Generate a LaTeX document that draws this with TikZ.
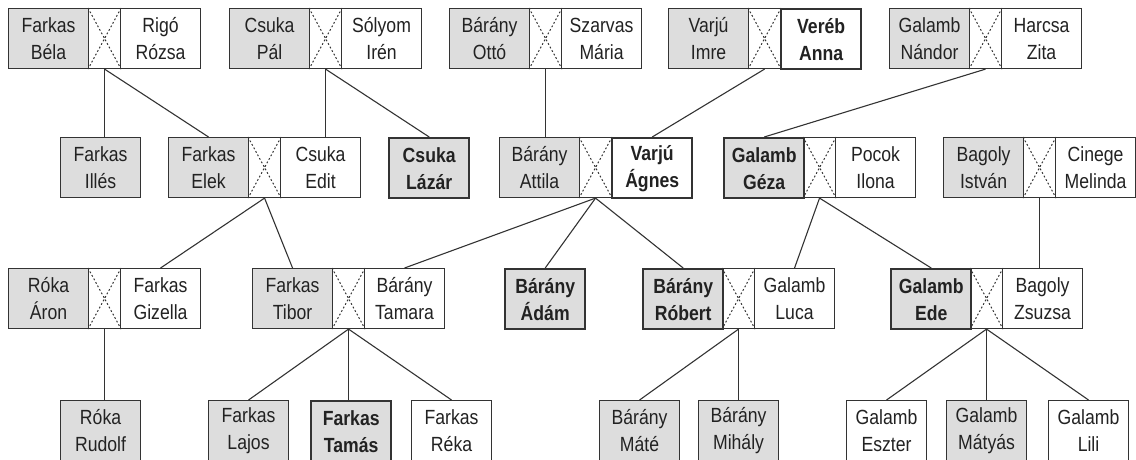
\documentclass[tikz,border=0pt]{standalone}
\usepackage{fontspec}
\setmainfont{Liberation Sans}[FakeStretch=0.86]
\definecolor{boxgray}{HTML}{DDDDDD}
\definecolor{ink}{HTML}{222222}
\definecolor{edge}{HTML}{333333}
\tikzset{
 pbox/.style={draw=edge, line width=1.1pt, minimum width=80pt, minimum height=60pt, anchor=north west, inner sep=0pt, align=center, text=ink, font=\fontsize{20.5}{27}\selectfont},
 male/.style={pbox, fill=boxgray},
 female/.style={pbox, fill=white},
 key/.style={line width=2.4pt, font=\fontsize{20.5}{27}\selectfont\bfseries},
 mbox/.style={draw=edge, line width=1.1pt, minimum width=32pt, minimum height=60pt, anchor=north west, inner sep=0pt, fill=white},
 link/.style={draw=edge, line width=1.1pt},
 cross/.style={draw=edge, line width=1pt, dash pattern=on 1.8pt off 2.2pt}
}
\newcommand\cpl[7]{%
 \node[mbox] (#1-m) at ({#2+80},#3) {};
 \draw[cross] (#1-m.north west) -- (#1-m.south east) (#1-m.north east) -- (#1-m.south west);
 \node[#4] (#1-a) at (#2,#3) {#5};
 \node[#6] (#1-b) at ({#2+112},#3) {#7};
}
\begin{document}
\begin{tikzpicture}[x=1pt,y=-1pt]
\clip (0,0) rectangle (1136,459);
% row 1
\cpl{r1a}{8}{8}{male}{Farkas\\Béla}{female}{Rigó\\Rózsa}
\cpl{r1b}{229}{8}{male}{Csuka\\Pál}{female}{Sólyom\\Irén}
\cpl{r1c}{449}{8}{male}{Bárány\\Ottó}{female}{Szarvas\\Mária}
\cpl{r1d}{668}{8}{male}{Varjú\\Imre}{female,key}{Veréb\\Anna}
\cpl{r1e}{889}{8}{male}{Galamb\\Nándor}{female}{Harcsa\\Zita}
% row 2
\node[male] (illes) at (60,137) {Farkas\\Illés};
\cpl{elek}{168}{137}{male}{Farkas\\Elek}{female}{Csuka\\Edit}
\node[male,key] (lazar) at (388,137) {Csuka\\Lázár};
\cpl{attila}{499}{137}{male}{Bárány\\Attila}{female,key}{Varjú\\Ágnes}
\cpl{geza}{723}{137}{male,key}{Galamb\\Géza}{female}{Pocok\\Ilona}
\cpl{istvan}{943}{137}{male}{Bagoly\\István}{female}{Cinege\\Melinda}
% row 3
\cpl{aron}{8}{268}{male}{Róka\\Áron}{female}{Farkas\\Gizella}
\cpl{tibor}{252}{268}{male}{Farkas\\Tibor}{female}{Bárány\\Tamara}
\node[male,key] (adam) at (504,268) {Bárány\\Ádám};
\cpl{robert}{642}{268}{male,key}{Bárány\\Róbert}{female}{Galamb\\Luca}
\cpl{ede}{890}{268}{male,key}{Galamb\\Ede}{female}{Bagoly\\Zsuzsa}
% row 4
\node[male] (rudolf) at (60,400) {Róka\\Rudolf};
\node[male] (lajos) at (208,400) {Farkas\\Lajos};
\node[male,key] (tamas) at (310,400) {Farkas\\Tamás};
\node[female] (reka) at (411,400) {Farkas\\Réka};
\node[male] (mate) at (599,400) {Bárány\\Máté};
\node[male] (mihaly) at (698,400) {Bárány\\Mihály};
\node[female] (eszter) at (846,400) {Galamb\\Eszter};
\node[male] (matyas) at (946,400) {Galamb\\Mátyás};
\node[female] (lili) at (1048,400) {Galamb\\Lili};
% connectors
\draw[link] (r1a-m.south) -- (r1a-m.south |- illes.north);
\draw[link] (r1a-m.south) -- (elek-a.north);
\draw[link] (r1b-m.south) -- (r1b-m.south |- elek-b.north);
\draw[link] (r1b-m.south) -- (lazar.north);
\draw[link] (r1c-m.south) -- (r1c-m.south |- attila-a.north);
\draw[link] (r1d-m.south) -- (attila-b.north);
\draw[link] (r1e-m.south) -- (geza-a.north);
\draw[link] (elek-m.south) -- (aron-b.north);
\draw[link] (elek-m.south) -- (tibor-a.north);
\draw[link] (attila-m.south) -- (tibor-b.north);
\draw[link] (attila-m.south) -- (adam.north);
\draw[link] (attila-m.south) -- (robert-a.north);
\draw[link] (geza-m.south) -- (robert-b.north);
\draw[link] (geza-m.south) -- (ede-a.north);
\draw[link] (istvan-m.south) -- (istvan-m.south |- ede-b.north);
\draw[link] (aron-m.south) -- (aron-m.south |- rudolf.north);
\draw[link] (tibor-m.south) -- (lajos.north);
\draw[link] (tibor-m.south) -- (tibor-m.south |- tamas.north);
\draw[link] (tibor-m.south) -- (reka.north);
\draw[link] (robert-m.south) -- (mate.north);
\draw[link] (robert-m.south) -- (robert-m.south |- mihaly.north);
\draw[link] (ede-m.south) -- (eszter.north);
\draw[link] (ede-m.south) -- (ede-m.south |- matyas.north);
\draw[link] (ede-m.south) -- (lili.north);
\end{tikzpicture}
\end{document}
